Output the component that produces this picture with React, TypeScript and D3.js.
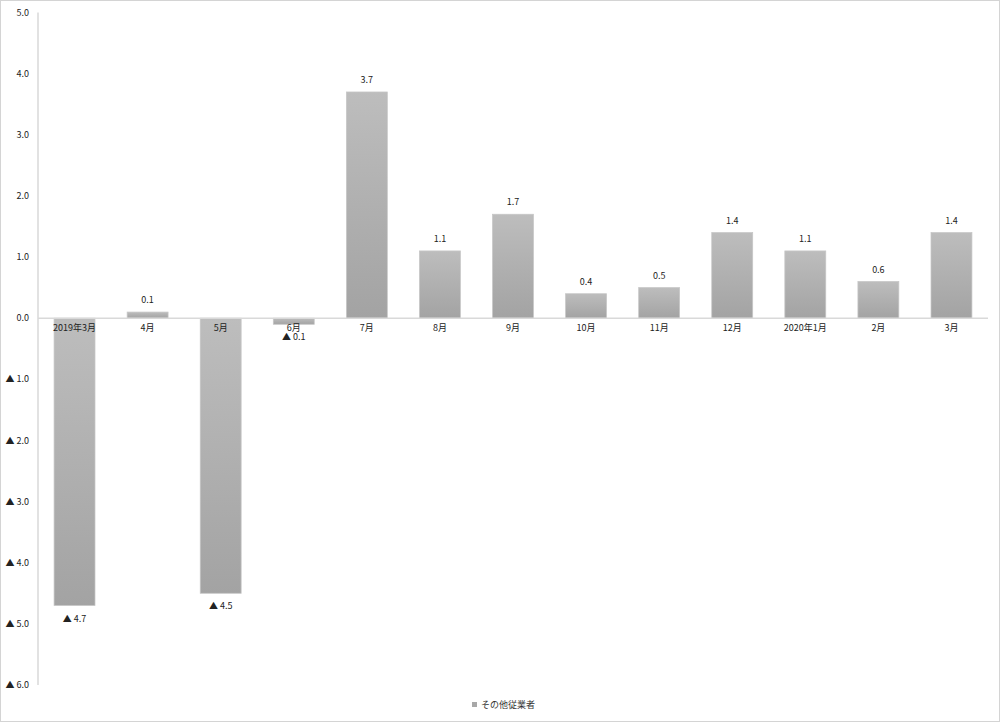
import React from "react";
import * as d3 from "d3";

const categories = ["2019年3月", "4月", "5月", "6月", "7月", "8月", "9月", "10月", "11月", "12月", "2020年1月", "2月", "3月"];
const values = [-4.7, 0.1, -4.5, -0.1, 3.7, 1.1, 1.7, 0.4, 0.5, 1.4, 1.1, 0.6, 1.4];
const yTicks = [5, 4, 3, 2, 1, 0, -1, -2, -3, -4, -5, -6];
const seriesName = "その他従業者";

const W = 1000;
const H = 722;
const FONT = "'Noto Sans CJK JP', 'Noto Sans', sans-serif";

const fmt = (v: number) => (v < 0 ? `▲ ${Math.abs(v).toFixed(1)}` : v.toFixed(1));

export default function App() {
  const x = d3.scaleBand<string>().domain(categories).range([38, 988]).paddingInner(0.44).paddingOuter(0.22);
  const y = d3.scaleLinear().domain([-6, 5]).range([685, 12.5]);
  const y0 = y(0);

  return (
    <svg width={W} height={H} style={{ position: "absolute", left: 0, top: 0, display: "block" }} fontFamily={FONT}>
      <defs>
        <linearGradient id="barFill" x1="0" y1="0" x2="0" y2="1">
          <stop offset="0" stopColor="#bdbdbd" />
          <stop offset="1" stopColor="#a3a3a3" />
        </linearGradient>
      </defs>
      <rect x={0.5} y={0.5} width={W - 1} height={H - 1} fill="#fff" stroke="#d4d4d4" />

      {/* value axis */}
      <line x1={38} x2={38} y1={y(5)} y2={y(-6)} stroke="#d9d9d9" strokeWidth={1.5} />
      {yTicks.map((t) => (
        <text key={t} x={29} y={y(t)} dy="0.35em" textAnchor="end" fontSize={9} fill="#222">
          {fmt(t)}
        </text>
      ))}

      {/* bars */}
      {values.map((v, i) => {
        const bx = x(categories[i])!;
        const top = Math.min(y(v), y0);
        const h = Math.abs(y(v) - y0);
        return (
          <rect key={categories[i]} x={bx} y={top} width={x.bandwidth()} height={h} fill="url(#barFill)" stroke="#c6c6c6" strokeWidth={0.75} />
        );
      })}

      {/* zero line */}
      <line x1={38} x2={988} y1={y0} y2={y0} stroke="#d9d9d9" strokeWidth={1.5} />

      {/* category labels */}
      {categories.map((c) => (
        <text key={c} x={x(c)! + x.bandwidth() / 2} y={y0 + 13} textAnchor="middle" fontSize={9} fill="#222">
          {c}
        </text>
      ))}

      {/* value labels */}
      {values.map((v, i) => {
        const cx = x(categories[i])! + x.bandwidth() / 2;
        const ly = v >= 0 ? y(v) - 9 : y(v) + 16;
        return (
          <text key={i} x={cx} y={ly} textAnchor="middle" fontSize={9} fill="#222">
            {fmt(v)}
          </text>
        );
      })}

      {/* legend */}
      <rect x={472} y={702} width={5} height={5} fill="#a8a8a8" />
      <text x={481} y={708} fontSize={9} fill="#333">{seriesName}</text>
    </svg>
  );
}
